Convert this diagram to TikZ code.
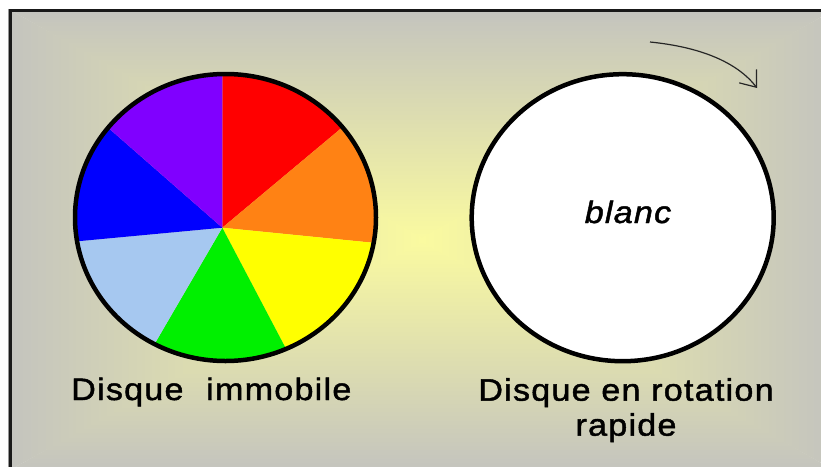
\documentclass[tikz,border=0pt]{standalone}
\usepackage{fontspec}
\setmainfont{Liberation Sans}
\usetikzlibrary{arrows.meta}
\definecolor{bgedge}{RGB}{196,196,190}
\definecolor{bgcenter}{RGB}{250,250,160}
\definecolor{wred}{RGB}{255,0,0}
\definecolor{worange}{RGB}{255,130,20}
\definecolor{wyellow}{RGB}{255,255,0}
\definecolor{wgreen}{RGB}{0,240,0}
\definecolor{wlblue}{RGB}{166,200,240}
\definecolor{wblue}{RGB}{0,0,255}
\definecolor{wviolet}{RGB}{128,0,255}
\definecolor{framegray}{RGB}{150,150,150}
\newfontfamily\lblfamily[FakeStretch=1.1,LetterSpace=4,FakeBold=1.5]{Liberation Sans}
\newcommand{\lblfont}{\lblfamily\fontsize{31}{35}\selectfont}
\begin{document}
\begin{tikzpicture}[x=1pt,y=-1pt,
  lbl/.style={font=\lblfont, inner sep=0pt},
  disk/.style={line width=4.5pt, draw=black},
  rotarrow/.style={line width=1.2pt, draw=black!85, -{Straight Barb[length=14pt,width=22pt]}}]
\useasboundingbox (0,0) rectangle (821,466);
\clip (0,0) rectangle (821,466);
\fill[white] (0,0) rectangle (821,466);
% rectangular "from centre" gradient background
\begin{scope}
  \clip (10,10) -- (834,10) -- (424,241) -- (420,241) -- cycle;
  \shade[top color=bgedge, bottom color=bgcenter] (11,11) rectangle (833,240);
\end{scope}
\begin{scope}
  \clip (10,470) -- (834,470) -- (424,239) -- (420,239) -- cycle;
  \shade[top color=bgcenter, bottom color=bgedge] (11,240) rectangle (833,469);
\end{scope}
\begin{scope}
  \clip (10,10) -- (10,470) -- (423,242) -- (423,238) -- cycle;
  \shade[left color=bgedge, right color=bgcenter] (11,11) rectangle (422,469);
\end{scope}
\begin{scope}
  \clip (834,10) -- (834,470) -- (421,242) -- (421,238) -- cycle;
  \shade[left color=bgcenter, right color=bgedge] (422,11) rectangle (833,469);
\end{scope}
% frame
\draw[framegray, line width=1pt] (8.8,8.8) -- (8.8,480);
\draw[black!90, line width=2.2pt] (10.5,490) -- (10.5,10.5) -- (840,10.5);
% left colour disk
\begin{scope}
  \clip (225.5,217.5) ellipse [x radius=150.5pt, y radius=143.5pt];
  \coordinate (hub) at (222.3,227.7);
  \fill[wred]    (hub) -- (222.3,-4.3) -- (396.3,82.2) -- cycle;
  \fill[worange] (hub) -- (396.3,82.2) -- (447.3,250.2) -- cycle;
  \fill[wyellow] (hub) -- (447.3,250.2) -- (314.9,403.7) -- cycle;
  \fill[wgreen]  (hub) -- (314.9,403.7) -- (124.8,395.1) -- cycle;
  \fill[wlblue]  (hub) -- (124.8,395.1) -- (8.8,247.7) -- cycle;
  \fill[wblue]   (hub) -- (8.8,247.7) -- (54.9,81.1) -- cycle;
  \fill[wviolet] (hub) -- (54.9,81.1) -- (222.3,-4.3) -- cycle;
\end{scope}
\draw[disk] (225.5,217.5) ellipse [x radius=150.5pt, y radius=143.5pt];
% right white disk
\draw[disk, fill=white] (622.7,217.7) ellipse [x radius=151pt, y radius=143.5pt];
\node[font=\lblfont\itshape, inner sep=0pt, anchor=base] (blanc) at (628,223) {blanc};
% labels
\node[lbl, anchor=base west] (lblimm) at (71,400) {Disque\hspace{12pt} immobile};
\node[lbl, align=center, anchor=north] (lblrot) at (626,378) {Disque en rotation\\rapide};
% rotation arrow
\coordinate (arrS) at (650,42);
\coordinate (arrE) at (757,88);
\draw[rotarrow] (arrS) .. controls (700,47) and (737,62) .. (arrE);
\end{tikzpicture}
\end{document}
